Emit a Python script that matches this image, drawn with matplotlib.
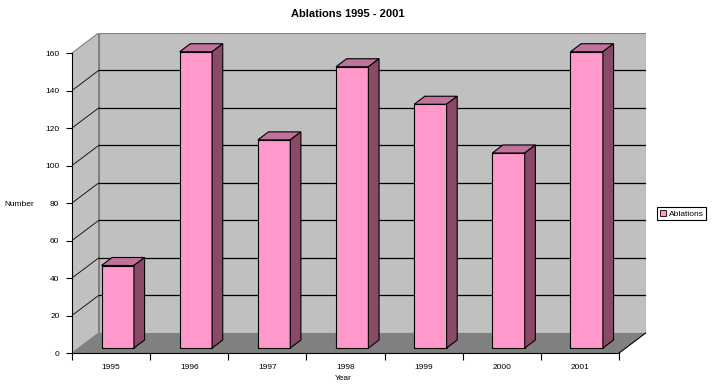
import matplotlib.pyplot as plt
from matplotlib.patches import Polygon, Rectangle, Patch

years = ['1995', '1996', '1997', '1998', '1999', '2000', '2001']
ablations = [44, 158, 111, 150, 130, 104, 158]
yticks = [0, 20, 40, 60, 80, 100, 120, 140, 160]

plt.rcParams['font.family'] = ['Liberation Sans', 'DejaVu Sans']

fig = plt.figure(figsize=(7.12, 3.86), dpi=100)
W, H = 712, 386
ax = fig.add_axes([72 / W, 33 / H, (645.7 - 72) / W, 320 / H])

n = len(years)
ymax = 160
dx, dy = 0.34, 10.67          # wall depth in data units
ax.set_xlim(0, n + dx)
ax.set_ylim(0, ymax + dy)

wall = '#C0C0C0'
floor = '#808080'
# back wall, side wall, floor
ax.add_patch(Rectangle((dx, dy), n, ymax, facecolor=wall, edgecolor='#808080', lw=0.8, zorder=0))
ax.add_patch(Polygon([(0, 0), (dx, dy), (dx, ymax + dy), (0, ymax)],
                     facecolor=wall, edgecolor='#808080', lw=0.8, zorder=0))
ax.add_patch(Polygon([(0, 0), (n, 0), (n + dx, dy), (dx, dy)],
                     facecolor=floor, edgecolor='none', zorder=0.5))
ax.plot([n, n + dx], [0, dy], color='black', lw=0.8, zorder=1)

# gridlines
for v in yticks[1:-1]:
    ax.plot([dx, n + dx], [v + dy, v + dy], color='black', lw=0.9, zorder=1)
    ax.plot([0, dx], [v, v + dy], color='black', lw=0.6, zorder=1)

# bars
w = 0.415
fx, fy = 0.25 * dx, 0.25 * dy
bx, by = 0.4 * dx, 0.4 * dy
front = '#FF99CC'
top = '#C0719C'
side = '#884A66'
lefts = [i + (1 - w) / 2 + fx for i in range(n)]
ax.bar(lefts, ablations, width=w, bottom=fy, align='edge', color=front,
       edgecolor='black', lw=0.8, zorder=3)
for xl, v in zip(lefts, ablations):
    xr = xl + w
    t = fy + v
    ax.add_patch(Polygon([(xl, t), (xr, t), (xr + bx, t + by), (xl + bx, t + by)],
                         facecolor=top, edgecolor='black', lw=0.8, zorder=3))
    ax.add_patch(Polygon([(xr, fy), (xr + bx, fy + by), (xr + bx, t + by), (xr, t)],
                         facecolor=side, edgecolor='black', lw=0.8, zorder=3))

# axes
for s in ['top', 'right']:
    ax.spines[s].set_visible(False)
ax.spines['left'].set_bounds(0, ymax)
ax.spines['bottom'].set_bounds(0, n)
ax.spines['left'].set_zorder(4)
ax.spines['bottom'].set_zorder(4)
ax.set_yticks(yticks)
ax.set_yticklabels([str(v) for v in yticks], fontsize=6)
ax.set_xticks(range(n + 1))
ax.set_xticklabels([''] * (n + 1))
ax.set_xticks([i + 0.5 for i in range(n)], minor=True)
ax.set_xticklabels(years, minor=True, fontsize=6)
ax.tick_params(axis='y', length=4, width=0.8, pad=5)
ax.tick_params(axis='x', which='major', length=5, width=0.8)
ax.tick_params(axis='x', which='minor', length=0, pad=8)

fig.text(348 / W, 1 - 14 / H, 'Ablations 1995 - 2001', ha='center', va='center',
         fontsize=8, fontweight='bold')
fig.text(4 / W, 1 - 204 / H, 'Number', ha='left', va='center', fontsize=6)
fig.text(343 / W, 1 - 379 / H, 'Year', ha='center', va='center', fontsize=6)

leg = fig.legend(handles=[Patch(facecolor=front, edgecolor='black', lw=0.6, label='Ablations')],
                 loc='upper left', bbox_to_anchor=(657 / W, 1 - 207 / H), fontsize=6,
                 fancybox=False, edgecolor='black', framealpha=1, borderpad=0.3,
                 handlelength=0.8, handleheight=0.8, handletextpad=0.3, borderaxespad=0)
leg.get_frame().set_linewidth(0.8)

fig.savefig('out.png', dpi=100)
